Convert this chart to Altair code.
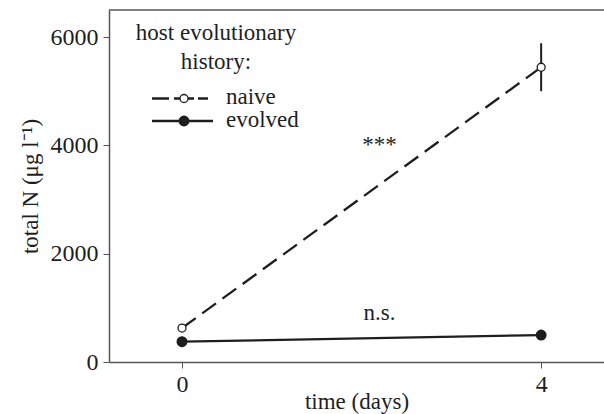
import altair as alt
import pandas as pd

# data
days = [0, 4]
naive_mean = [627, 5443]
naive_lo = [627, 5001]
naive_hi = [627, 5886]
evolved_mean = [375, 498]
evolved_lo = [276, 470]
evolved_hi = [466, 526]

ann_text = ["***", "n.s."]
ann_x = [2.2, 2.2]
ann_y = [4000, 900]

FONT = "Liberation Serif"
INK = "#1e1e1e"
W, H = 495, 352

naive = pd.DataFrame({"day": days, "mean": naive_mean, "lo": naive_lo, "hi": naive_hi})
evolved = pd.DataFrame({"day": days, "mean": evolved_mean, "lo": evolved_lo, "hi": evolved_hi})
ann = pd.DataFrame({"t": ann_text, "x": ann_x, "y": ann_y})

xs = alt.Scale(domain=[-0.813, 4.7], nice=False, zero=False)
ys = alt.Scale(domain=[0, 6500], nice=False)

xax = alt.Axis(values=[0, 4], title="time (days)", grid=False, format="d",
               labelFont=FONT, labelFontSize=24, labelColor=INK, labelPadding=4,
               tickSize=6, tickColor="#555", domainColor="#555", domainWidth=1.5,
               titleFont=FONT, titleFontSize=23, titleFontWeight="normal", titleColor=INK,
               titleBaseline="alphabetic", titleY=46)
yax = alt.Axis(values=[0, 2000, 4000, 6000], title="total N (μg l⁻¹)", grid=False, format="d",
               labelFont=FONT, labelFontSize=24, labelColor=INK, labelPadding=5,
               tickSize=6, tickColor="#555", domainColor="#555", domainWidth=1.5,
               titleFont=FONT, titleFontSize=23, titleFontWeight="normal", titleColor=INK,
               titlePadding=8)

base_n = alt.Chart(naive)
base_e = alt.Chart(evolved)

line_n = base_n.mark_line(color=INK, strokeWidth=2.3, strokeDash=[17, 8]).encode(
    x=alt.X("day:Q", scale=xs, axis=xax), y=alt.Y("mean:Q", scale=ys, axis=yax))
line_e = base_e.mark_line(color=INK, strokeWidth=2.3).encode(
    x=alt.X("day:Q", scale=xs), y=alt.Y("mean:Q", scale=ys))
err_n = base_n.mark_rule(color=INK, strokeWidth=2).encode(
    x=alt.X("day:Q", scale=xs), y=alt.Y("lo:Q", scale=ys), y2="hi:Q")
err_e = base_e.mark_rule(color=INK, strokeWidth=2).encode(
    x=alt.X("day:Q", scale=xs), y=alt.Y("lo:Q", scale=ys), y2="hi:Q")
pt_n = base_n.mark_point(shape="circle", filled=True, fill="white", stroke=INK,
                         strokeWidth=1.3, size=64, opacity=1).encode(
    x=alt.X("day:Q", scale=xs), y=alt.Y("mean:Q", scale=ys))
pt_e = base_e.mark_point(shape="circle", filled=True, fill=INK, stroke=INK,
                         size=80, opacity=1).encode(
    x=alt.X("day:Q", scale=xs), y=alt.Y("mean:Q", scale=ys))
txt = alt.Chart(ann).mark_text(font=FONT, fontSize=23, color=INK).encode(
    x=alt.X("x:Q", scale=xs), y=alt.Y("y:Q", scale=ys), text="t:N")

# top frame line
top = alt.Chart(pd.DataFrame({"a": [0]})).mark_rule(color="#555", strokeWidth=1.5).encode(
    x=alt.value(0), x2=alt.value(W), y=alt.value(0))

# manual legend
legend_title = ["host evolutionary", "history:"]
legend_labels = ["naive", "evolved"]
lt = alt.Chart(pd.DataFrame({"t": legend_title, "yy": [23, 52]})).mark_text(
    font=FONT, fontSize=23, color=INK, align="center", baseline="middle").encode(
    text="t:N", x=alt.value(107), y=alt.Y("yy:Q", scale=None))
ll = alt.Chart(pd.DataFrame({"t": legend_labels, "yy": [87, 110]})).mark_text(
    font=FONT, fontSize=23, color=INK, align="left", baseline="middle").encode(
    text="t:N", x=alt.value(117), y=alt.Y("yy:Q", scale=None))
leg_dash = alt.Chart(pd.DataFrame({"a": [0]})).mark_rule(color=INK, strokeWidth=2.3,
    strokeDash=[17, 5, 20, 4, 10]).encode(
    x=alt.value(43), x2=alt.value(99), y=alt.value(88.5))
leg_solid = alt.Chart(pd.DataFrame({"a": [0]})).mark_rule(color=INK, strokeWidth=2.3).encode(
    x=alt.value(43), x2=alt.value(104), y=alt.value(111))
leg_pt_n = alt.Chart(pd.DataFrame({"a": [0]})).mark_point(shape="circle", filled=True, fill="white",
    stroke=INK, strokeWidth=1.3, size=64, opacity=1).encode(x=alt.value(75), y=alt.value(88.5))
leg_pt_e = alt.Chart(pd.DataFrame({"a": [0]})).mark_point(shape="circle", filled=True, fill=INK,
    stroke=INK, size=80, opacity=1).encode(x=alt.value(75), y=alt.value(111))

chart = alt.layer(line_n, line_e, err_n, err_e, pt_n, pt_e, txt, top,
                  lt, ll, leg_dash, leg_solid, leg_pt_n, leg_pt_e).properties(
    width=W, height=H,
    autosize=alt.AutoSizeParams(type="none"),
    padding={"left": 109, "top": 10, "right": 0, "bottom": 52},
    background="white",
).configure_view(stroke=None)

chart.save("out.html", embed_options={"renderer": "svg", "actions": False})
